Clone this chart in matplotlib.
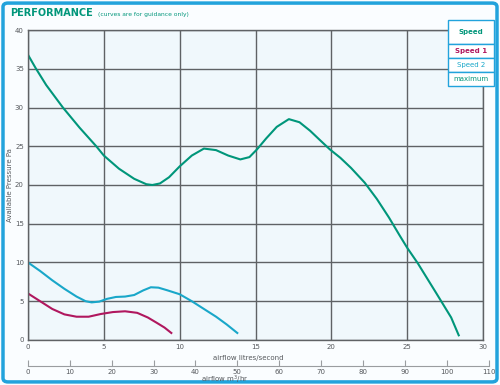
import matplotlib

matplotlib.use("Agg")

import matplotlib.pyplot as plt
from matplotlib.patches import FancyBboxPatch

# curve readings, airflow l/s vs available pressure Pa
max_x = [0, 0.5, 1.2, 2.3, 3.4, 4.5, 5.0, 6.0, 7.0, 7.8, 8.2, 8.7, 9.3, 10.0, 10.8,
         11.6, 12.4, 13.2, 14.0, 14.6, 15.1, 15.7, 16.4, 17.2, 17.9, 18.6, 19.3,
         19.9, 20.6, 21.3, 22.2, 23.0, 23.8, 24.5, 25.0, 25.7, 26.3, 26.9, 27.4,
         27.9, 28.4]
max_y = [36.8, 35.1, 32.9, 30.0, 27.4, 25.0, 23.8, 22.1, 20.8, 20.1, 20.0, 20.2,
         21.0, 22.4, 23.8, 24.7, 24.5, 23.8, 23.3, 23.6, 24.6, 26.0, 27.5, 28.5,
         28.1, 27.0, 25.7, 24.6, 23.5, 22.2, 20.3, 18.2, 15.8, 13.5, 11.9, 9.9,
         8.0, 6.1, 4.5, 2.9, 0.6]

sp2_x = [0, 0.8, 1.6, 2.4, 3.2, 3.8, 4.2, 4.7, 5.2, 5.8, 6.4, 7.0, 7.6, 8.1, 8.6,
         9.2, 10.0, 10.8, 11.6, 12.4, 13.1, 13.8]
sp2_y = [10.0, 8.9, 7.7, 6.6, 5.6, 5.0, 4.85, 4.95, 5.3, 5.55, 5.6, 5.8, 6.4, 6.8,
         6.75, 6.4, 5.9, 5.0, 4.0, 3.0, 2.0, 0.9]

sp1_x = [0, 0.8, 1.6, 2.4, 3.2, 4.0, 4.8, 5.6, 6.4, 7.2, 7.9, 8.5, 9.0, 9.45]
sp1_y = [6.0, 5.0, 4.0, 3.3, 3.0, 3.0, 3.35, 3.6, 3.7, 3.5, 2.9, 2.2, 1.6, 0.9]

ls_ticks = [0, 5, 10, 15, 20, 25, 30]
pa_ticks = [0, 5, 10, 15, 20, 25, 30, 35, 40]
m3h_ticks = [0, 10, 20, 30, 40, 50, 60, 70, 80, 90, 100, 110]

legend_rows = ["Speed", "Speed 1", "Speed 2", "maximum"]

green = "#00967a"
cyan = "#19a7c9"
magenta = "#b0175e"
frame = "#22a3dc"
grid = "#5f6265"
txt = "#55585c"

fig = plt.figure(figsize=(5, 3.85), dpi=100, facecolor="#fafdff")

# outer frame
fig.patches.append(FancyBboxPatch((0.006, 0.008), 0.988, 0.984,
                                  boxstyle="round,pad=0,rounding_size=0.01",
                                  transform=fig.transFigure, fill=False,
                                  edgecolor=frame, linewidth=2.5))

ax = fig.add_axes([0.056, 0.117, 0.91, 0.805])
ax.set_facecolor("#f0f8fc")
ax.plot(max_x, max_y, color=green, lw=1.5)
ax.plot(sp2_x, sp2_y, color=cyan, lw=1.5)
ax.plot(sp1_x, sp1_y, color=magenta, lw=1.5)

ax.set_xlim(0, 30)
ax.set_ylim(0, 40)
ax.set_xticks(ls_ticks)
ax.set_yticks(pa_ticks)
ax.grid(True, color=grid, lw=1.0)
ax.set_axisbelow(True)
for s in ax.spines.values():
    s.set_color(grid)
    s.set_linewidth(1.0)
ax.tick_params(length=0, labelsize=5, colors=txt, pad=3)
fig.text(0.02, 0.52, "Available Pressure Pa", fontsize=5, color=txt,
         rotation=90, ha="center", va="center")
ax.text(14.5, -2.3, "airflow litres/second", fontsize=5, color=txt,
        ha="center", va="center")

# secondary m3/hr scale
ax2 = fig.add_axes([0.056, 0.05, 0.921, 0.001])
ax2.set_xlim(0, 110)
ax2.set_ylim(0, 1)
ax2.set_yticks([])
ax2.set_xticks(m3h_ticks)
ax2.patch.set_alpha(0)
for k in ["top", "left", "right"]:
    ax2.spines[k].set_visible(False)
ax2.spines["bottom"].set_color("#9a9da0")
ax2.spines["bottom"].set_linewidth(0.8)
ax2.tick_params(axis="x", direction="in", length=4, width=0.8, color="#9a9da0",
                labelsize=5, labelcolor=txt, pad=2)
fig.text(0.45, 0.013, "airflow m$^3$/hr", fontsize=5, color=txt, ha="center",
         va="center")

# title
fig.text(0.02, 0.965, "PERFORMANCE", fontsize=7, fontweight="bold",
         color=green, va="center")
fig.text(0.195, 0.963, "(curves are for guidance only)", fontsize=4.3,
         color=green, va="center")

# legend box
lx, lw = 0.896, 0.092
row_tops = [20, 44, 58, 72, 86]
colors = [green, magenta, cyan, green]
weights = ["bold", "bold", "normal", "normal"]
for i, name in enumerate(legend_rows):
    y0 = 1 - row_tops[i + 1] / 385
    h = (row_tops[i + 1] - row_tops[i]) / 385
    fig.patches.append(plt.Rectangle((lx, y0), lw, h, transform=fig.transFigure,
                                     facecolor="white", edgecolor=frame, lw=1.0))
    fig.text(lx + lw / 2, y0 + h / 2, name, fontsize=5, color=colors[i],
             fontweight=weights[i], ha="center", va="center")

fig.savefig("out.png", dpi=100, facecolor=fig.get_facecolor())
